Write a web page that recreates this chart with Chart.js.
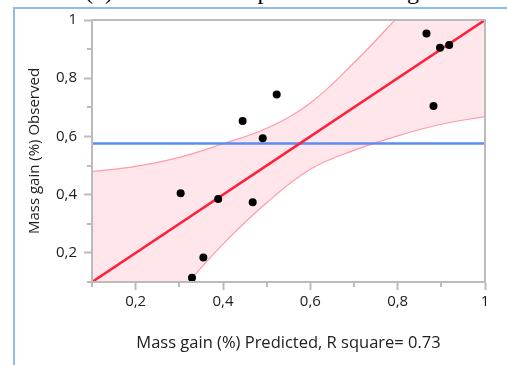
<!DOCTYPE html>
<html>
<head>
<meta charset="utf-8">
<script src="https://cdn.jsdelivr.net/npm/chart.js@4.4.1/dist/chart.umd.min.js"></script>
<style>
  html, body { margin: 0; padding: 0; background: #fff; overflow: hidden; }
  #wrap { position: relative; width: 507px; height: 365px; overflow: hidden; background: #fff; }
  #frame { position: absolute; left: 13px; top: 7px; right: -4px; bottom: -4px;
           border-top: 2px solid #8FBDEB; border-left: 2px solid #8FBDEB; }
  #caption { position: absolute; left: 85px; top: -22px; white-space: nowrap;
             font: 24px/26px "Liberation Serif", "DejaVu Serif", serif; color: #000; }
  canvas { position: absolute; left: 0; top: 0; }
</style>
</head>
<body>
<div id="wrap">
  <div id="caption">(b) Observed and predicted mass gain</div>
  <div id="frame"></div>
  <canvas id="c" width="507" height="365"></canvas>
</div>
<script>
// Observed vs. predicted mass gain (%), one entry per specimen
const predicted = [0.866, 0.897, 0.918, 0.523, 0.445, 0.491, 0.882, 0.303, 0.389, 0.468, 0.355, 0.329];
const observed  = [0.954, 0.905, 0.914, 0.744, 0.653, 0.594, 0.705, 0.405, 0.385, 0.374, 0.184, 0.115];

// Mean of the observed response (horizontal reference line)
const meanObserved = 0.576;

// Ends of the fit line (observed = predicted)
const fitEnds = [0.1, 1];

// Confidence band of the fit
const bandX     = [0.1,   0.2,   0.3,   0.4,   0.5,   0.6,   0.7,   0.8,   0.9,   1.0];
const bandUpper = [0.479, 0.497, 0.528, 0.575, 0.628, 0.715, 0.853, 1.01,  1.17,  1.34];
const bandLower = [-0.26, -0.10, 0.065, 0.230, 0.372, 0.487, 0.552, 0.602, 0.642, 0.668];

// Axis ticks
const xMajorTicks = [0.2, 0.4, 0.6, 0.8, 1];
const xMinorTicks = [0.1, 0.3, 0.5, 0.7, 0.9];
const yMajorTicks = [0.2, 0.4, 0.6, 0.8, 1];
const yMinorTicks = [0.1, 0.3, 0.5, 0.7, 0.9];

const FONT = '"Open Sans", "Noto Sans", sans-serif';
const AXIS_GREY = '#BBBBBB';
const TEXT = '#202020';

const fmt = v => (Math.abs(v - 1) < 1e-9 ? '1' : Number(v).toFixed(1).replace('.', ','));

// Plot frame (top/right sides) and the short minor tick marks
const axisDecor = {
  id: 'axisDecor',
  afterDatasetsDraw(chart) {
    const { ctx, chartArea: a, scales } = chart;
    ctx.save();
    ctx.strokeStyle = AXIS_GREY;
    ctx.lineWidth = 2;
    ctx.strokeRect(a.left, a.top, a.right - a.left, a.bottom - a.top);
    ctx.beginPath();
    xMinorTicks.forEach(v => {
      const px = Math.round(scales.x.getPixelForValue(v));
      ctx.moveTo(px, a.bottom);
      ctx.lineTo(px, a.bottom + 5);
    });
    yMinorTicks.forEach(v => {
      const py = Math.round(scales.y.getPixelForValue(v));
      ctx.moveTo(a.left, py);
      ctx.lineTo(a.left - 5, py);
    });
    ctx.stroke();
    ctx.restore();
  }
};

const toXY = (xs, ys) => xs.map((x, i) => ({ x, y: ys[i] }));

new Chart(document.getElementById('c'), {
  type: 'line',
  data: {
    datasets: [
      {
        label: 'Upper confidence',
        data: toXY(bandX, bandUpper),
        borderColor: '#FF9AAA',
        borderWidth: 1.2,
        backgroundColor: 'rgba(255, 30, 60, 0.11)',
        fill: '+1',
        pointRadius: 0,
        tension: 0.4,
        clip: 0,
        order: 4
      },
      {
        label: 'Lower confidence',
        data: toXY(bandX, bandLower),
        borderColor: '#FF9AAA',
        borderWidth: 1.2,
        fill: false,
        pointRadius: 0,
        tension: 0.4,
        clip: 0,
        order: 3
      },
      {
        label: 'Mean',
        data: fitEnds.map(x => ({ x, y: meanObserved })),
        borderColor: '#5A8CF5',
        borderWidth: 2.6,
        fill: false,
        pointRadius: 0,
        clip: 0,
        order: 2
      },
      {
        label: 'Fit',
        data: fitEnds.map(v => ({ x: v, y: v })),
        borderColor: '#FF1F3A',
        borderWidth: 2.6,
        fill: false,
        pointRadius: 0,
        clip: 0,
        order: 1
      },
      {
        label: 'Specimens',
        data: toXY(predicted, observed),
        showLine: false,
        pointRadius: 4,
        pointBackgroundColor: '#000',
        pointBorderColor: '#000',
        pointBorderWidth: 0,
        order: 0
      }
    ]
  },
  options: {
    responsive: false,
    devicePixelRatio: 1,
    animation: false,
    layout: { padding: { top: 20, right: 22, left: 0, bottom: 0 } },
    plugins: { legend: { display: false }, tooltip: { enabled: false } },
    scales: {
      x: {
        type: 'linear',
        min: 0.1,
        max: 1,
        afterBuildTicks: s => { s.ticks = xMajorTicks.map(v => ({ value: v })); },
        afterFit: s => { s.height = 83; },
        ticks: { callback: fmt, autoSkip: false, maxRotation: 0, padding: 3,
                 font: { family: FONT, size: 15 }, color: TEXT },
        grid: { drawOnChartArea: false, drawTicks: true, tickLength: 8, tickColor: AXIS_GREY, tickWidth: 2 },
        border: { color: AXIS_GREY, width: 2 },
        title: { display: true, text: 'Mass gain (%) Predicted, R square= 0.73',
                 font: { family: FONT, size: 16.5 }, color: TEXT, padding: { top: 0, bottom: 12 } }
      },
      y: {
        type: 'linear',
        min: 0.1,
        max: 1,
        afterBuildTicks: s => { s.ticks = yMajorTicks.map(v => ({ value: v })); },
        afterFit: s => { s.width = 92; },
        ticks: { callback: fmt, autoSkip: false, padding: 7,
                 font: { family: FONT, size: 15 }, color: TEXT },
        grid: { drawOnChartArea: false, drawTicks: true, tickLength: 8, tickColor: AXIS_GREY, tickWidth: 2 },
        border: { color: AXIS_GREY, width: 2 },
        title: { display: true, text: 'Mass gain (%) Observed',
                 font: { family: FONT, size: 15 }, color: TEXT, padding: { top: 26, bottom: 0 } }
      }
    }
  },
  plugins: [axisDecor]
});
</script>
</body>
</html>
